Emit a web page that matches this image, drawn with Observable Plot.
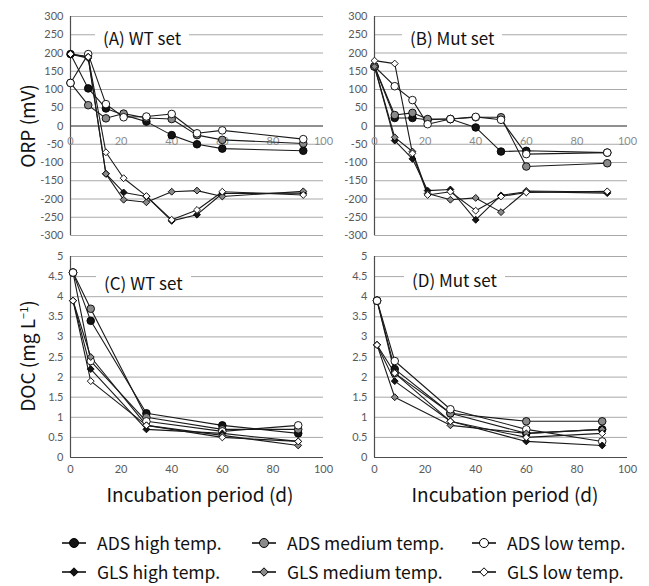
<!DOCTYPE html>
<html>
<head>
<meta charset="utf-8">
<script src="https://cdn.jsdelivr.net/npm/d3@7"></script>
<script src="https://cdn.jsdelivr.net/npm/@observablehq/plot@0.6"></script>
<style>
  html, body { margin: 0; padding: 0; background: #fff; }
  #chart { position: relative; width: 649px; height: 586px; background: #fff; overflow: hidden; font-family: "Noto Sans CJK JP", "Noto Sans", sans-serif; }
  .panel { position: absolute; }
  .panel svg { overflow: visible; }
  .ptitle { position: absolute; background: #fff; font-size: 17px; line-height: 18px; padding: 0 8px; color: #111; white-space: pre; }
  .ytitle { position: absolute; transform: translate(-50%, -50%) rotate(-90deg); font-size: 19px; line-height: 22px; color: #111; white-space: nowrap; }
  .xtitle { position: absolute; transform: translate(-50%, -50%); font-size: 19px; line-height: 22px; color: #111; white-space: nowrap; }
  .leg { position: absolute; display: flex; align-items: center; font-size: 17.5px; line-height: 20px; height: 20px; color: #111; white-space: nowrap; transform: translateY(-50%); }
  .leg svg { margin-right: 11px; }
</style>
</head>
<body>
<div id="chart"></div>
<script>
// ---------- data ----------
const seriesNames = ["ADS high temp.", "ADS medium temp.", "ADS low temp.", "GLS high temp.", "GLS medium temp.", "GLS low temp."];
const seriesType = ["ADS", "ADS", "ADS", "GLS", "GLS", "GLS"];
const seriesTemp = ["high", "medium", "low", "high", "medium", "low"];

const orpTicks = [-300, -250, -200, -150, -100, -50, 0, 50, 100, 150, 200, 250, 300];
const docTicks = [0, 0.5, 1, 1.5, 2, 2.5, 3, 3.5, 4, 4.5, 5];
const dayTicks = [0, 20, 40, 60, 80, 100];

const orpDaysWT = [0, 7, 14, 21, 30, 40, 50, 60, 92];
const orpWT = [
  [197, 103, 48, 30, 12, -25, -50, -62, -68],
  [118, 57, 21, 34, 22, 19, -25, -38, -48],
  [118, 197, 60, 24, 26, 33, -20, -12, -36],
  [197, 186, -131, -182, -193, -260, -243, -185, -184],
  [197, 190, -131, -202, -209, -180, -177, -193, -179],
  [197, 189, -72, -143, -192, -257, -230, -180, -189]
];

const orpDaysMut = [0, 8, 15, 21, 30, 40, 50, 60, 92];
const orpMut = [
  [163, 22, 22, 17, 19, -4, -70, -68, -73],
  [163, 30, 36, 19, 19, 24, 24, -111, -102],
  [163, 109, 71, 5, 19, 25, 17, -77, -73],
  [163, -40, -90, -177, -174, -257, -190, -180, -184],
  [163, -31, -70, -185, -202, -197, -236, -178, -181],
  [179, 171, -75, -189, -180, -232, -193, -182, -179]
];

const docDays = [1, 8, 30, 60, 90];
const docWT = [
  [4.6, 3.4, 1.1, 0.8, 0.6],
  [4.6, 3.7, 1.0, 0.7, 0.7],
  [4.6, 2.4, 0.9, 0.65, 0.8],
  [3.9, 2.2, 0.7, 0.6, 0.4],
  [3.9, 2.5, 0.8, 0.55, 0.3],
  [3.9, 1.9, 0.8, 0.5, 0.4]
];
const docMut = [
  [3.9, 2.2, 1.1, 0.6, 0.7],
  [3.9, 2.1, 1.1, 0.9, 0.9],
  [3.9, 2.4, 1.2, 0.7, 0.4],
  [2.8, 1.9, 0.9, 0.4, 0.3],
  [2.8, 1.5, 0.8, 0.6, 0.7],
  [2.8, 2.1, 0.9, 0.5, 0.6]
];

// ---------- styles ----------
const tempFill = {high: "#141414", medium: "#8a8a8a", low: "#ffffff"};
const lineColor = "#1a1a1a";
const gridColor = "#a9a9a9";
const axisColor = "#4d4d4d";

function toRows(days, table) {
  const rows = [];
  table.forEach((vals, si) => {
    vals.forEach((v, di) => rows.push({series: seriesNames[si], type: seriesType[si], temp: seriesTemp[si], day: days[di], v}));
  });
  return rows;
}

const chart = document.getElementById("chart");

function addPanel({left, top, width, height, marginLeft, marginTop, marginBottom, ydomain, yticks, rows, xAtZero}) {
  const marks = [
    Plot.ruleY(yticks, {stroke: gridColor, strokeWidth: 1}),
    Plot.ruleY([0], {stroke: axisColor, strokeWidth: 1.2}),
    Plot.ruleX([0], {stroke: axisColor, strokeWidth: 1.2}),
    Plot.line(rows, {x: "day", y: "v", z: "series", stroke: lineColor, strokeWidth: 1.1}),
    Plot.dot(rows.filter(d => d.type === "ADS"), {x: "day", y: "v", symbol: "circle", r: 3.8, fill: d => tempFill[d.temp], stroke: "#000", strokeWidth: 0.9}),
    Plot.dot(rows.filter(d => d.type === "GLS"), {x: "day", y: "v", symbol: "diamond2", r: 3.1, fill: d => tempFill[d.temp], stroke: "#000", strokeWidth: 0.9})
  ];
  if (xAtZero) {
    marks.splice(3, 0, Plot.text(dayTicks, {x: d => d, y: d => 0, dy: 15, text: d => String(d), fill: "#8c8c8c", fontSize: 11}));
  }
  const svg = Plot.plot({
    width, height, marginLeft, marginRight: 7, marginTop, marginBottom,
    x: {domain: [0, 100], axis: xAtZero ? null : "bottom", ticks: dayTicks, tickSize: 0, tickPadding: 8, tickFormat: d => String(d), label: null},
    y: {domain: ydomain, ticks: yticks, tickSize: 0, tickPadding: 7, tickFormat: d => String(d), label: null},
    style: {fontFamily: "Lato, 'Open Sans', sans-serif", fontSize: "11px", color: "#595959", background: "transparent", overflow: "visible"},
    marks
  });
  const div = document.createElement("div");
  div.className = "panel";
  div.style.left = left + "px";
  div.style.top = top + "px";
  div.appendChild(svg);
  chart.appendChild(div);
}

addPanel({left: 0, top: 0, width: 330, height: 240, marginLeft: 70, marginTop: 16, marginBottom: 5, ydomain: [-300, 300], yticks: orpTicks, rows: toRows(orpDaysWT, orpWT), xAtZero: true});
addPanel({left: 330, top: 0, width: 304, height: 240, marginLeft: 44, marginTop: 16, marginBottom: 5, ydomain: [-300, 300], yticks: orpTicks, rows: toRows(orpDaysMut, orpMut), xAtZero: true});
addPanel({left: 0, top: 240, width: 330, height: 242, marginLeft: 70, marginTop: 16, marginBottom: 25, ydomain: [0, 5], yticks: docTicks, rows: toRows(docDays, docWT), xAtZero: false});
addPanel({left: 330, top: 240, width: 304, height: 242, marginLeft: 44, marginTop: 16, marginBottom: 25, ydomain: [0, 5], yticks: docTicks, rows: toRows(docDays, docMut), xAtZero: false});

// panel titles
const panelTitles = [["(A) WT set", 95, 29], ["(B) Mut set", 402, 29], ["(C) WT set", 96, 274], ["(D) Mut set", 404, 271]];
panelTitles.forEach(([t, x, y]) => {
  const d = document.createElement("div");
  d.className = "ptitle";
  d.textContent = t;
  d.style.left = x + "px";
  d.style.top = y + "px";
  chart.appendChild(d);
});

// axis titles
function addText(cls, html, x, y) {
  const d = document.createElement("div");
  d.className = cls;
  d.innerHTML = html;
  d.style.left = x + "px";
  d.style.top = y + "px";
  chart.appendChild(d);
}
addText("ytitle", "ORP (mV)", 27, 126);
addText("ytitle", "DOC (mg L<sup style=\"font-size:11px;line-height:0;vertical-align:7px\">−1</sup>)", 27, 356);
addText("xtitle", "Incubation period (d)", 200, 494);
addText("xtitle", "Incubation period (d)", 505, 494);

// legend
const legCols = [62, 252, 472];
const legRows = [543, 572];
seriesNames.forEach((name, i) => {
  const col = i % 3, row = Math.floor(i / 3);
  const d = document.createElement("div");
  d.className = "leg";
  d.style.left = legCols[col] + "px";
  d.style.top = legRows[row] + "px";
  const fill = tempFill[seriesTemp[i]];
  const marker = seriesType[i] === "ADS"
    ? `<circle cx="12" cy="7" r="4.5" fill="${fill}" stroke="#000" stroke-width="1"/>`
    : `<path d="M12,2.8 L16.2,7 L12,11.2 L7.8,7 Z" fill="${fill}" stroke="#000" stroke-width="1"/>`;
  d.innerHTML = `<svg width="24" height="14"><line x1="0" y1="7" x2="24" y2="7" stroke="#000" stroke-width="1.5"/>${marker}</svg><span>${name}</span>`;
  chart.appendChild(d);
});
</script>
</body>
</html>
